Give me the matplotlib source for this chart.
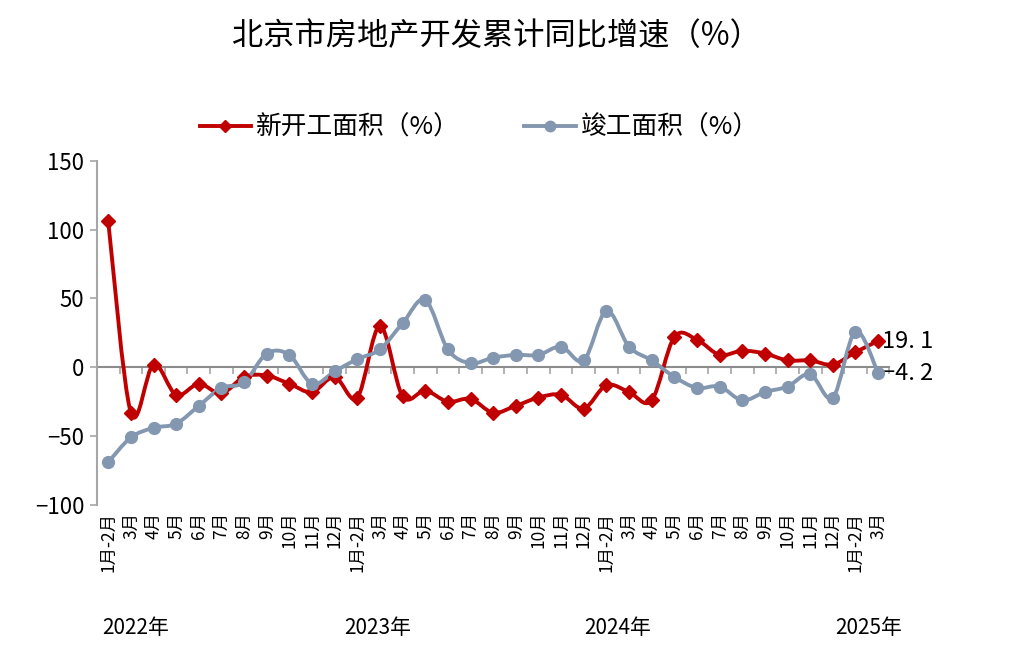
import numpy as np
import matplotlib
matplotlib.use("Agg")
import matplotlib.pyplot as plt
from matplotlib.path import Path
from matplotlib.patches import PathPatch
from matplotlib.lines import Line2D
from matplotlib.transforms import blended_transform_factory

plt.rcParams['font.family'] = ['Noto Sans CJK SC', 'DejaVu Sans']
plt.rcParams['axes.unicode_minus'] = False

# x-axis categories
months = ['1月-2月', '3月', '4月', '5月', '6月', '7月', '8月', '9月', '10月', '11月', '12月']
labels = months * 3 + ['1月-2月', '3月']
years = ['2022年', '2023年', '2024年', '2025年']
year_pos = [1.2, 11.9, 22.5, 33.6]

# cumulative y/y growth, %
new_start = [106, -33, 2, -20, -12, -19, -7, -6, -12, -18, -7,
             -22, 30, -21, -17, -25, -23, -33, -28, -22, -20, -30,
             -13, -18, -24, 22, 20, 9, 12, 10, 5, 5, 2,
             11, 19.1]
completed = [-69, -51, -44, -41, -28, -15, -11, 10, 9, -12, -3,
             6, 13, 32, 49, 13, 3, 7, 9, 9, 15, 5,
             41, 15, 5, -7, -15, -14, -24, -18, -14, -5, -22,
             26, -4.2]

RED = '#C00000'
BLUE = '#8497B0'


def smooth_path(x, y):
    """Bezier path through the points (Excel-style smoothed line)."""
    pts = np.column_stack([x, y]).astype(float)
    n = len(pts)
    verts = [pts[0]]
    codes = [Path.MOVETO]
    for i in range(n - 1):
        p0 = pts[i - 1] if i > 0 else pts[i]
        p1 = pts[i]
        p2 = pts[i + 1]
        p3 = pts[i + 2] if i + 2 < n else pts[i + 1]
        c1 = p1 + (p2 - p0) / 6.0
        c2 = p2 - (p3 - p1) / 6.0
        verts += [c1, c2, p2]
        codes += [Path.CURVE4] * 3
    return Path(verts, codes)


fig = plt.figure(figsize=(10.2, 6.54), dpi=100)
ax = fig.add_axes([0.095, 0.228, 0.777, 0.526])

x = np.arange(len(labels))
for data, color, marker, ms in [(new_start, RED, 'D', 7.5), (completed, BLUE, 'o', 8.5)]:
    ax.add_patch(PathPatch(smooth_path(x, data), facecolor='none', edgecolor=color,
                           lw=2.8, zorder=3, capstyle='round', joinstyle='round'))
    ax.plot(x, data, linestyle='none', marker=marker, ms=ms, color=color, zorder=4)

ax.set_xlim(-0.5, len(labels) - 0.5)
ax.set_ylim(-100, 150)
ax.set_yticks([-100, -50, 0, 50, 100, 150])
ax.set_yticklabels(['\u2212100', '\u221250', '0', '50', '100', '150'])
ax.tick_params(axis='y', labelsize=16, color='#A6A6A6', length=5, width=1.2, pad=4)

for s in ['top', 'right', 'bottom']:
    ax.spines[s].set_visible(False)
ax.spines['left'].set_color('#A6A6A6')
ax.spines['left'].set_linewidth(1.5)

ax.set_xticks(x)
ax.set_xticklabels(labels, rotation=90, fontsize=12.5, va='top')
ax.tick_params(axis='x', length=0, pad=5)

# zero axis with category tick marks
zero_ax = ax.secondary_xaxis(0, transform=ax.transData)
zero_ax.spines['bottom'].set_color('#8C8C8C')
zero_ax.spines['bottom'].set_linewidth(1.5)
zero_ax.set_xticks(np.arange(len(labels) + 1) - 0.5)
zero_ax.set_xticklabels([])
zero_ax.tick_params(axis='x', length=5, width=1.2, color='#A6A6A6', direction='out')

trans = blended_transform_factory(ax.transData, fig.transFigure)
for yr, pos in zip(years, year_pos):
    ax.text(pos, 0.04, yr, transform=trans, ha='center', va='center', fontsize=15)

# end-value labels
ax.text(x[-1] + 0.15, new_start[-1], '19. 1', fontsize=17, va='center', ha='left')
ax.text(x[-1] + 0.15, completed[-1], '\u22124. 2', fontsize=17, va='center', ha='left')

handles = [Line2D([], [], color=RED, lw=2.8, marker='D', ms=6.5),
           Line2D([], [], color=BLUE, lw=2.8, marker='o', ms=7.5)]
fig.legend(handles, ['新开工面积（%）', '竣工面积（%）'], loc='center',
           bbox_to_anchor=(0.47, 0.805), ncol=2, frameon=False, fontsize=18.5,
           handlelength=2.0, handletextpad=0.2, columnspacing=2.5)

fig.text(0.487, 0.945, '北京市房地产开发累计同比增速（%）', ha='center', va='center',
         fontsize=22.5)

fig.savefig('out.png', dpi=100)
